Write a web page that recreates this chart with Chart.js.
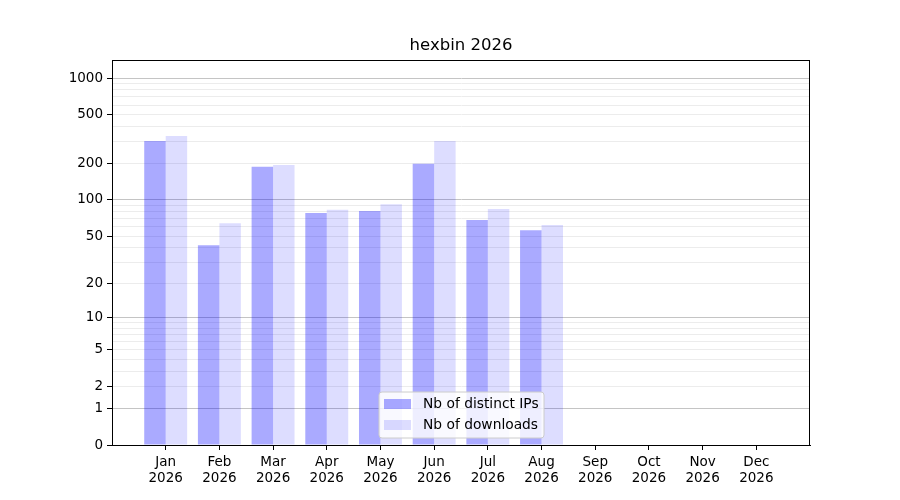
<!DOCTYPE html>
<html>
<head>
<meta charset="utf-8">
<title>hexbin 2026</title>
<script src="https://cdn.jsdelivr.net/npm/chart.js@4.4.1/dist/chart.umd.min.js"></script>
<style>
  html, body { margin: 0; padding: 0; background: #fff; }
  #wrap { width: 900px; height: 500px; }
</style>
</head>
<body>
<div id="wrap"><canvas id="chart" width="900" height="500"></canvas></div>
<script>
// chart data
var months = ['Jan', 'Feb', 'Mar', 'Apr', 'May', 'Jun', 'Jul', 'Aug', 'Sep', 'Oct', 'Nov', 'Dec'];
var year = '2026';
var distinctIPs = [305, 42, 187, 78, 81, 198, 68, 56, null, null, null, null];
var downloads = [335, 64, 194, 83, 92, 305, 84, 62, null, null, null, null];
var yTickLabels = [0, 1, 2, 5, 10, 20, 50, 100, 200, 500, 1000];
var yMajorLines = [1, 10, 100, 1000];
var yMinorLines = [2, 3, 4, 5, 6, 7, 8, 9, 20, 30, 40, 50, 60, 70, 80, 90, 200, 300, 400, 500, 600, 700, 800, 900];

// y axis is log10(1 + n)
function sl(v) { return Math.log10(1 + v); }

function toPoints(arr) {
    var pts = [];
    arr.forEach(function(v, i) {
        if (v !== null) pts.push({ x: i, y: sl(v) });
    });
    return pts;
}

// all y ticks (labelled + grid-only), sorted
var yTicks = [];
yTickLabels.concat(yMajorLines, yMinorLines).forEach(function(t) {
    if (yTicks.indexOf(t) < 0) yTicks.push(t);
});
yTicks.sort(function(a, b) { return a - b; });

var FONT = 'DejaVu Sans';

var frameAndLegend = {
    id: 'frameAndLegend',
    afterDraw: function(chart) {
        var ctx = chart.ctx;
        var a = chart.chartArea;
        ctx.save();
        // box around the plot
        ctx.strokeStyle = '#000';
        ctx.lineWidth = 1;
        ctx.strokeRect(a.left + 0.5, a.top + 0.5, a.right - a.left - 1, a.bottom - a.top);

        // title
        ctx.fillStyle = '#000';
        ctx.font = '16.5px "' + FONT + '"';
        ctx.textAlign = 'center';
        ctx.textBaseline = 'middle';
        ctx.fillText('hexbin 2026', (a.left + a.right) / 2, 46);

        // legend in the plot
        var lx = 379, ly = 392, lw = 165, lh = 46;
        ctx.beginPath();
        ctx.roundRect(lx, ly, lw, lh, 3);
        ctx.fillStyle = 'rgba(255,255,255,0.8)';
        ctx.fill();
        ctx.strokeStyle = '#cccccc';
        ctx.stroke();
        ctx.font = '13.8px "' + FONT + '"';
        ctx.textAlign = 'left';
        chart.data.datasets.forEach(function(ds, i) {
            var cy = ly + 12 + i * 21;
            ctx.fillStyle = ds.backgroundColor;
            ctx.fillRect(lx + 5, cy - 5, 27, 10);
            ctx.fillStyle = '#000';
            ctx.fillText(ds.label, lx + 44, cy);
        });
        ctx.restore();
    }
};

var chart = new Chart(document.getElementById('chart'), {
    type: 'bar',
    data: {
        datasets: [{
            label: 'Nb of distinct IPs',
            data: toPoints(distinctIPs),
            backgroundColor: 'rgba(0,0,255,0.333)',
            borderWidth: 0
        }, {
            label: 'Nb of downloads',
            data: toPoints(downloads),
            backgroundColor: 'rgba(0,0,255,0.133)',
            borderWidth: 0
        }]
    },
    options: {
        responsive: false,
        animation: false,
        categoryPercentage: 0.8,
        barPercentage: 1.0,
        layout: { padding: { left: 0, right: 90, top: 60, bottom: 0 } },
        plugins: {
            legend: { display: false },
            title: { display: false },
            tooltip: { enabled: false }
        },
        scales: {
            x: {
                type: 'linear',
                min: -1,
                max: 12,
                offset: false,
                afterBuildTicks: function(scale) {
                    scale.ticks = months.map(function(m, i) { return { value: i }; });
                },
                afterFit: function(scale) { scale.height = 55; },
                ticks: {
                    autoSkip: false,
                    maxRotation: 0,
                    padding: 5,
                    color: '#000',
                    font: { family: FONT, size: 13.5, lineHeight: 1.14 },
                    callback: function(v) { return [months[v], year]; }
                },
                grid: {
                    offset: false,
                    drawOnChartArea: false,
                    drawTicks: true,
                    tickLength: 5,
                    tickColor: '#000'
                },
                border: { display: true, color: '#000' }
            },
            y: {
                type: 'linear',
                min: 0,
                max: 3.148,
                afterBuildTicks: function(scale) {
                    scale.ticks = yTicks.map(function(t) { return { value: sl(t) }; });
                },
                afterFit: function(scale) { scale.width = 112; },
                ticks: {
                    autoSkip: false,
                    padding: 4,
                    color: '#000',
                    font: { family: FONT, size: 13.5 },
                    callback: function(v, i) {
                        var t = yTicks[i];
                        return yTickLabels.indexOf(t) >= 0 ? String(t) : '';
                    }
                },
                grid: {
                    drawTicks: true,
                    tickLength: 5,
                    color: function(c) {
                        var t = yTicks[c.index];
                        if (t === 0) return 'rgba(0,0,0,0)';
                        return yMajorLines.indexOf(t) >= 0 ? '#c4c4c4' : '#ececec';
                    },
                    tickColor: function(c) {
                        var t = yTicks[c.index];
                        return yTickLabels.indexOf(t) >= 0 ? '#000' : 'rgba(0,0,0,0)';
                    }
                },
                border: { display: true, color: '#000' }
            }
        }
    },
    plugins: [frameAndLegend]
});
</script>
</body>
</html>
